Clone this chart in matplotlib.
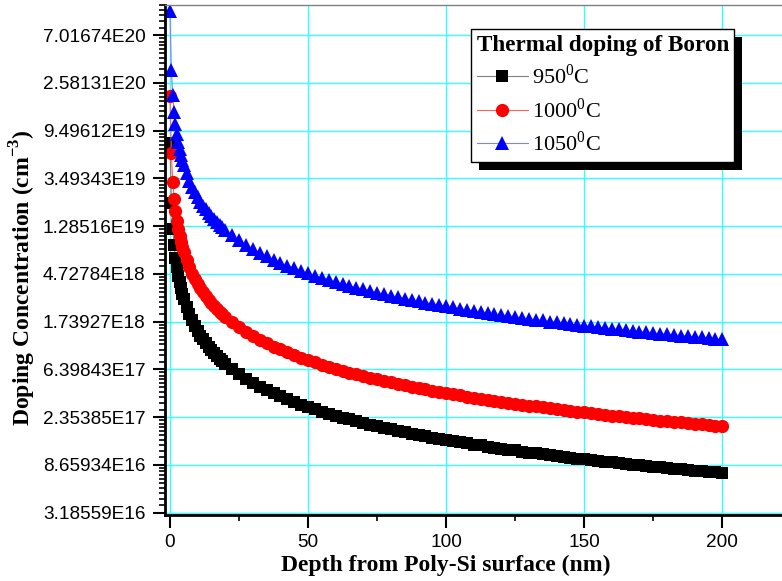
import matplotlib
matplotlib.use("Agg")
import matplotlib.pyplot as plt
from matplotlib.patches import Rectangle
from matplotlib.ticker import FixedLocator, NullFormatter
import numpy as np

plt.rcParams['mathtext.fontset'] = 'custom'
plt.rcParams['mathtext.rm'] = 'Liberation Serif'
plt.rcParams['mathtext.bf'] = 'Liberation Serif:bold'

# depth (nm)
depth = [0, 0.5, 1, 1.5, 2, 2.5, 3, 3.5, 4, 4.5, 5, 6, 7, 8, 9, 10, 11, 12, 13, 14, 15,
         16, 17, 18, 19, 20, 22.5, 25, 27.5, 30, 32.5, 35, 37.5, 40, 42.5, 45, 47.5,
         50, 52.5, 55, 57.5, 60, 62.5, 65, 67.5, 70, 72.5, 75, 77.5, 80, 82.5, 85,
         87.5, 90, 92.5, 95, 97.5, 100, 102.5, 105, 107.5, 110, 112.5, 115, 117.5,
         120, 122.5, 125, 127.5, 130, 132.5, 135, 137.5, 140, 142.5, 145, 147.5,
         150, 152.5, 155, 157.5, 160, 162.5, 165, 167.5, 170, 172.5, 175, 177.5,
         180, 182.5, 185, 187.5, 190, 192.5, 195, 197.5, 200]

c950 = [7.3e19, 2.09e19, 1.22e19, 8.59e18, 6.64e18, 5.41e18, 4.56e18, 3.95e18, 3.48e18,
        3.11e18, 2.81e18, 2.35e18, 2.03e18, 1.78e18, 1.59e18, 1.43e18, 1.30e18, 1.20e18,
        1.11e18, 1.03e18, 9.61e17, 9.01e17, 8.49e17, 8.02e17, 7.60e17, 7.23e17, 6.43e17,
        5.79e17, 5.27e17, 4.83e17, 4.46e17, 4.15e17, 3.87e17, 3.63e17, 3.42e17, 3.23e17,
        3.06e17, 2.91e17, 2.77e17, 2.64e17, 2.53e17, 2.43e17, 2.33e17, 2.24e17, 2.16e17,
        2.08e17, 2.01e17, 1.94e17, 1.88e17, 1.82e17, 1.77e17, 1.71e17, 1.66e17, 1.62e17,
        1.58e17, 1.53e17, 1.49e17, 1.46e17, 1.42e17, 1.39e17, 1.36e17, 1.32e17, 1.30e17,
        1.27e17, 1.24e17, 1.21e17, 1.19e17, 1.17e17, 1.14e17, 1.12e17, 1.10e17, 1.08e17,
        1.06e17, 1.04e17, 1.02e17, 1.01e17, 9.89e16, 9.72e16, 9.56e16, 9.41e16, 9.26e16,
        9.11e16, 8.97e16, 8.84e16, 8.71e16, 8.58e16, 8.45e16, 8.33e16, 8.22e16, 8.10e16,
        7.99e16, 7.88e16, 7.78e16, 7.68e16, 7.58e16, 7.48e16, 7.39e16, 7.29e16]

c1000 = [1.95e20, 6.0e19, 3.25e19, 2.29e19, 1.77e19, 1.44e19, 1.22e19, 1.05e19, 9.29e18,
         8.30e18, 7.50e18, 6.29e18, 5.42e18, 4.76e18, 4.24e18, 3.82e18, 3.48e18, 3.20e18,
         2.95e18, 2.75e18, 2.57e18, 2.41e18, 2.27e18, 2.14e18, 2.03e18, 1.93e18, 1.72e18,
         1.55e18, 1.41e18, 1.29e18, 1.19e18, 1.11e18, 1.03e18, 9.70e17, 9.13e17, 8.63e17,
         8.18e17, 7.77e17, 7.40e17, 7.07e17, 6.76e17, 6.48e17, 6.22e17, 5.98e17, 5.76e17,
         5.56e17, 5.36e17, 5.19e17, 5.02e17, 4.86e17, 4.72e17, 4.58e17, 4.45e17, 4.32e17,
         4.21e17, 4.10e17, 3.99e17, 3.89e17, 3.80e17, 3.71e17, 3.62e17, 3.54e17, 3.46e17,
         3.39e17, 3.31e17, 3.24e17, 3.18e17, 3.12e17, 3.05e17, 3.00e17, 2.94e17, 2.88e17,
         2.83e17, 2.78e17, 2.73e17, 2.69e17, 2.64e17, 2.60e17, 2.55e17, 2.51e17, 2.47e17,
         2.43e17, 2.40e17, 2.36e17, 2.33e17, 2.29e17, 2.26e17, 2.23e17, 2.19e17, 2.16e17,
         2.14e17, 2.11e17, 2.08e17, 2.05e17, 2.02e17, 2.00e17, 1.97e17, 1.95e17]

c1050 = [1.15e21, 3.35e20, 2.00e20, 1.41e20, 1.09e20, 8.89e19, 7.50e19, 6.49e19, 5.71e19,
         5.11e19, 4.62e19, 3.87e19, 3.33e19, 2.93e19, 2.61e19, 2.35e19, 2.14e19, 1.97e19,
         1.82e19, 1.69e19, 1.58e19, 1.48e19, 1.40e19, 1.32e19, 1.25e19, 1.19e19, 1.06e19,
         9.52e18, 8.66e18, 7.95e18, 7.34e18, 6.82e18, 6.37e18, 5.97e18, 5.62e18, 5.31e18,
         5.03e18, 4.78e18, 4.55e18, 4.35e18, 4.16e18, 3.99e18, 3.83e18, 3.68e18, 3.55e18,
         3.42e18, 3.30e18, 3.19e18, 3.09e18, 2.99e18, 2.90e18, 2.82e18, 2.74e18, 2.66e18,
         2.59e18, 2.52e18, 2.46e18, 2.40e18, 2.34e18, 2.28e18, 2.23e18, 2.18e18, 2.13e18,
         2.08e18, 2.04e18, 2.00e18, 1.96e18, 1.92e18, 1.88e18, 1.84e18, 1.81e18, 1.78e18,
         1.74e18, 1.71e18, 1.68e18, 1.65e18, 1.63e18, 1.60e18, 1.57e18, 1.55e18, 1.52e18,
         1.50e18, 1.48e18, 1.45e18, 1.43e18, 1.41e18, 1.39e18, 1.37e18, 1.35e18, 1.33e18,
         1.31e18, 1.30e18, 1.28e18, 1.26e18, 1.25e18, 1.23e18, 1.21e18, 1.20e18]

labels = ['950$^{\\mathregular{0}}$C', '1000$^{\\mathregular{0}}$C', '1050$^{\\mathregular{0}}$C']

xticks = [0, 50, 100, 150, 200]
ytick_exps = [38, 39, 40, 41, 42, 43, 44, 45, 46, 47, 48]
ytick_labels = ['3.18559E16', '8.65934E16', '2.35385E17', '6.39843E17', '1.73927E18',
                '4.72784E18', '1.28516E19', '3.49343E19', '9.49612E19', '2.58131E20',
                '7.01674E20']

fig = plt.figure(figsize=(7.82, 5.81), dpi=100)
ax = fig.add_axes([165 / 782, 1 - 515 / 581, 1 - 165 / 782, 510 / 581])

ax.plot(depth, c950, color='#808080', lw=0.8, marker='s', ms=8.5,
        mfc='black', mec='black', mew=0, label=labels[0])
ax.plot(depth, c1000, color='#ff6060', lw=0.8, marker='o', ms=9.5,
        mfc='red', mec='red', mew=0, label=labels[1])
ax.plot(depth, c1050, color='#8080ff', lw=0.8, marker='^', ms=10,
        mfc='blue', mec='blue', mew=0, label=labels[2])

ax.set_yscale('log', base=np.e)
ax.set_xlim(-1.8, 221.6)
ax.set_ylim(np.exp(37.95), np.exp(48.63))

yt = np.exp(ytick_exps)
ax.yaxis.set_major_locator(FixedLocator(yt))
ax.set_yticklabels(ytick_labels)
minor = []
for n in range(37, 49):
    lo, hi = np.exp(n), np.exp(n + 1)
    for k in range(1, 10):
        minor.append(lo + k * (hi - lo) / 10)
ax.yaxis.set_minor_locator(FixedLocator(minor))
ax.yaxis.set_minor_formatter(NullFormatter())

ax.set_xticks(xticks)
ax.set_xticklabels([str(v) for v in xticks])
ax.xaxis.set_minor_locator(FixedLocator([25, 75, 125, 175]))

ax.grid(True, which='major', color='#33ffff', lw=1)
ax.set_axisbelow(True)

for s in ['left', 'bottom']:
    ax.spines[s].set_linewidth(2)
ax.spines['right'].set_visible(False)
ax.spines['top'].set_color('#808080')
ax.spines['top'].set_linewidth(1)

ax.tick_params(which='major', direction='out', length=9, width=1.5,
               labelsize=13.7, top=False, right=False, pad=5)
ax.tick_params(which='minor', direction='out', length=4.5, width=1.2,
               top=False, right=False)
for t in ax.get_xticklabels() + ax.get_yticklabels():
    t.set_fontfamily('Liberation Sans')

ax.set_xlabel('Depth from Poly-Si surface (nm)', fontsize=17, fontweight='bold',
              family='Liberation Serif')
ax.set_ylabel('Doping Concentration (cm$^{\\mathregular{-3}}$)', fontsize=17,
              fontweight='bold', family='Liberation Serif')
ax.xaxis.set_label_coords((446 - 165) / 617, (515 - 555) / 510)
ax.yaxis.set_label_coords((38 - 165) / 617, (515 - 278) / 510)

leg = ax.legend(loc='upper left', bbox_to_anchor=(471 / 782, 1 - 29 / 581),
                bbox_transform=fig.transFigure, borderaxespad=0,
                title='Thermal doping of Boron',
                title_fontproperties={'family': 'Liberation Serif', 'weight': 'bold', 'size': 16.7},
                prop={'family': 'Liberation Serif', 'size': 16},
                fancybox=False, edgecolor='black', framealpha=1,
                numpoints=1, handlelength=2.3, handletextpad=0.2,
                labelspacing=0.4, borderpad=0.25, alignment='left')
leg.get_frame().set_linewidth(1)
leg.set_zorder(10)

fig.canvas.draw()
bb = leg.get_window_extent()
shadow = Rectangle((bb.x0 + 8, bb.y0 - 8), bb.width, bb.height, transform=None,
                   facecolor='black', edgecolor='none', zorder=9, clip_on=False)
ax.add_artist(shadow)

fig.savefig('out.png', dpi=100)
plt.close(fig)
